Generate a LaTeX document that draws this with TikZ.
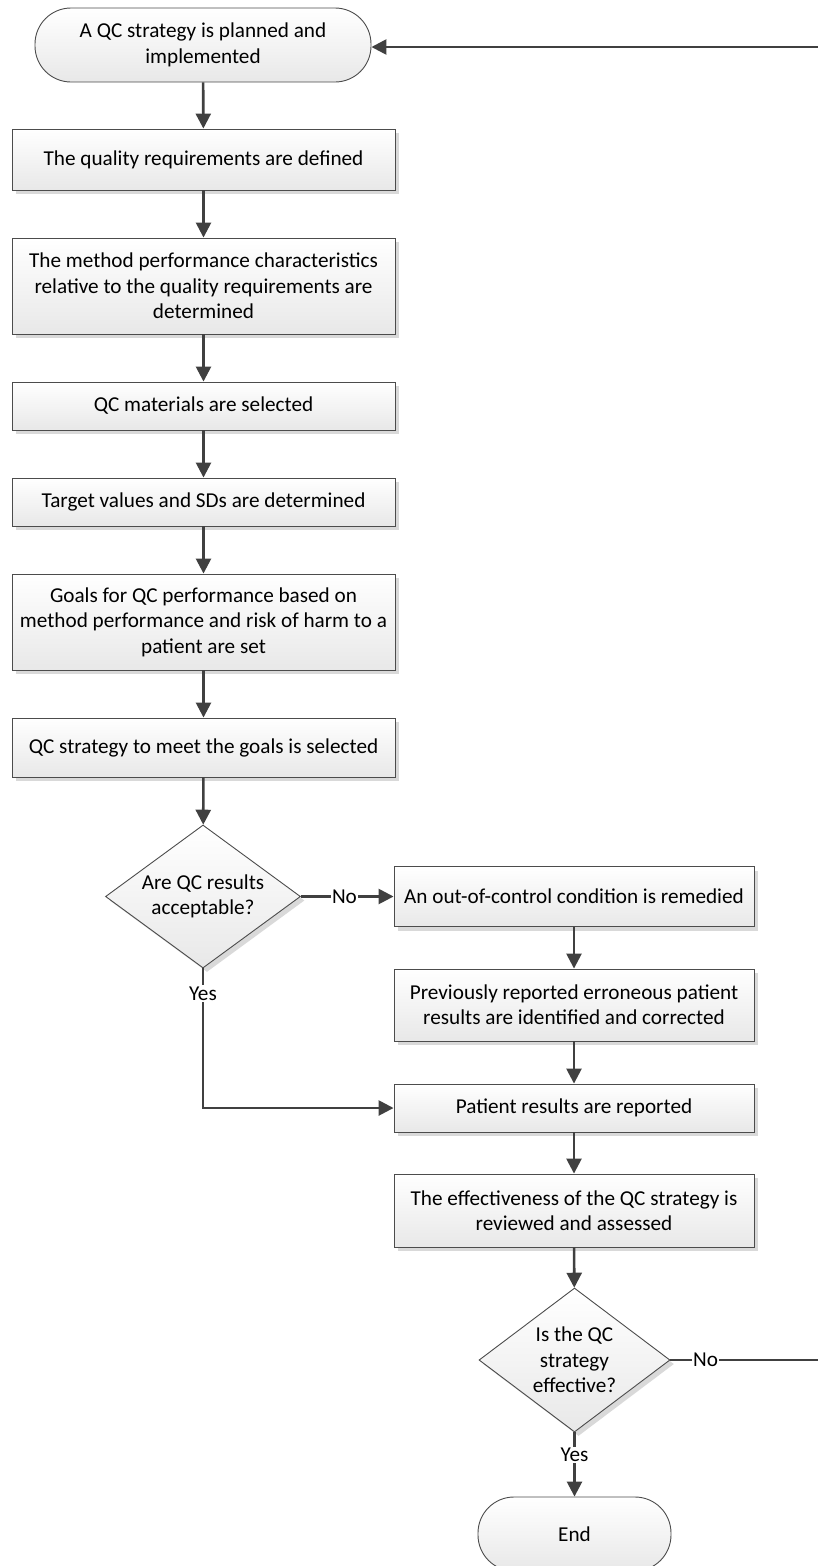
\documentclass[tikz,border=0pt]{standalone}
\usepackage{fontspec}
\setmainfont{Carlito}
\usetikzlibrary{shapes.geometric,shadows,arrows.meta}
\tikzset{
  txt/.style={font=\fontsize{21.2}{25.4}\selectfont},
  proc/.style={rectangle, draw=black!70, line width=0.9pt, top color=white, bottom color=black!9,
    drop shadow={shadow xshift=4pt, shadow yshift=-4pt, fill=black!15, opacity=1},
    inner sep=0pt, align=center, txt},
  term/.style={rectangle, rounded corners=36pt, draw=black!70, line width=0.9pt, top color=white, bottom color=black!9,
    inner sep=0pt, align=center, txt},
  decide/.style={diamond, draw=black!70, line width=0.9pt, top color=white, bottom color=black!9,
    drop shadow={shadow xshift=4pt, shadow yshift=-4pt, fill=black!15, opacity=1},
    inner sep=0pt, align=center, txt},
  conn/.style={draw=black!75, line width=2.6pt, -{Triangle[length=15pt,width=15pt]}},
  plainconn/.style={draw=black!75, line width=2.6pt},
  lbl/.style={fill=white, inner sep=1.5pt, txt}
}
\begin{document}
\begin{tikzpicture}[x=1pt,y=-1pt]
\useasboundingbox (0,0) rectangle (817,1566);
\node[term, minimum width=336pt, minimum height=74pt] (start) at (203,45) {A QC strategy is planned and\\implemented};
\node[proc, minimum width=383pt, minimum height=61pt] (b1) at (203.5,159.5) {The quality requirements are defined};
\node[proc, minimum width=383pt, minimum height=96pt] (b2) at (203.5,286) {The method performance characteristics\\relative to the quality requirements are\\determined};
\node[proc, minimum width=383pt, minimum height=48pt] (b3) at (203.5,406) {QC materials are selected};
\node[proc, minimum width=383pt, minimum height=48pt] (b4) at (203.5,502) {Target values and SDs are determined};
\node[proc, minimum width=383pt, minimum height=96pt] (b5) at (203.5,622) {Goals for QC performance based on\\method performance and risk of harm to a\\patient are set};
\node[proc, minimum width=383pt, minimum height=59pt] (b6) at (203.5,747.5) {QC strategy to meet the goals is selected};
\node[decide, aspect=1.36, minimum width=195pt, minimum height=143pt] (d1) at (203,896.5) {Are QC results\\acceptable?};
\node[proc, minimum width=360pt, minimum height=60pt] (b7) at (574,896.5) {An out-of-control condition is remedied};
\node[proc, minimum width=360pt, minimum height=72pt] (b8) at (574,1005) {Previously reported erroneous patient\\results are identified and corrected};
\node[proc, minimum width=360pt, minimum height=48pt] (b9) at (574,1108) {Patient results are reported};
\node[proc, minimum width=360pt, minimum height=73pt] (b10) at (574,1210.5) {The effectiveness of the QC strategy is\\reviewed and assessed};
\node[decide, aspect=1.33, minimum width=191pt, minimum height=144pt] (d2) at (574.5,1360) {Is the QC\\strategy\\effective?};
\node[term, minimum width=193pt, minimum height=74pt] (end) at (574.5,1534) {End};
\coordinate (loopA) at (830,1360);
\coordinate (loopB) at (830,47);

\draw[conn] (start) -- (b1);
\draw[conn] (b1) -- (b2);
\draw[conn] (b2) -- (b3);
\draw[conn] (b3) -- (b4);
\draw[conn] (b4) -- (b5);
\draw[conn] (b5) -- (b6);
\draw[conn] (b6) -- (d1);
\draw[conn] (d1.east) -- node[lbl, pos=0.47] {No} (b7.west);
\draw[conn] (b7) -- (b8);
\draw[conn] (b8) -- (b9);
\draw[conn] (d1.south) |- node[lbl, pos=0.09] {Yes} (b9.west);
\draw[conn] (b9) -- (b10);
\draw[conn] (b10) -- (d2);
\draw[conn] (d2.south) -- node[lbl, pos=0.35] {Yes} (end.north);
\draw[plainconn] (d2.east) -- node[lbl, pos=0.22] {No} (loopA);
\draw[conn] (loopB) -- (start.east |- loopB);
\end{tikzpicture}
\end{document}
